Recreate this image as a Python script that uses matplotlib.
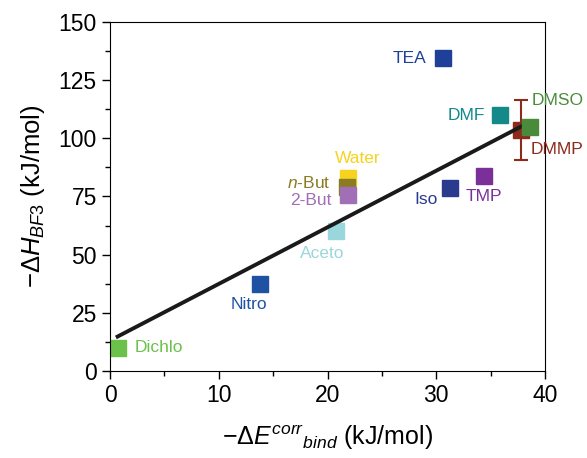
import numpy as np
import matplotlib
matplotlib.use('Agg')
import matplotlib.pyplot as plt
from matplotlib.ticker import MultipleLocator

plt.rcParams['font.family'] = ['Liberation Sans', 'DejaVu Sans']
plt.rcParams['mathtext.fontset'] = 'custom'
plt.rcParams['mathtext.rm'] = 'Liberation Sans'
plt.rcParams['mathtext.it'] = 'Liberation Sans:italic'

# solvent data
names = ['TEA', 'DMF', 'DMSO', 'DMMP', 'TMP', 'Iso', 'Water', 'n-But', '2-But', 'Aceto', 'Nitro', 'Dichlo']
e_bind = [30.6, 35.9, 38.6, 37.8, 34.4, 31.3, 21.9, 21.8, 21.9, 20.8, 13.8, 0.7]
h_bf3 = [134.5, 110.0, 104.8, 103.5, 84.0, 78.5, 83.0, 79.0, 75.5, 60.0, 37.5, 10.0]
h_err = [0, 0, 0, 13.0, 0, 0, 2.5, 0, 0, 0, 0, 0]
colors = ['#1f4099', '#13898a', '#4a8b3b', '#8c2a1c', '#7b2f98', '#2a3b8e',
          '#f7d320', '#8b7b22', '#a06fb6', '#9ad7dc', '#1f52a3', '#6cc14b']

# linear fit line endpoints (from figure)
fit_x = [0.7, 38.6]
fit_y = [14.8, 107.0]

# label offsets (points) and alignment
label_pos = {
    'TEA': (-12, 0, 'right'),
    'DMF': (-11, 0, 'right'),
    'DMSO': (1, 19, 'left'),
    'DMMP': (7, -14, 'left'),
    'TMP': (0, -15, 'center'),
    'Iso': (-9, -8, 'right'),
    'Water': (7, 14, 'center'),
    'n-But': (-12, 3, 'right'),
    '2-But': (-12, -4, 'right'),
    'Aceto': (-10, -16, 'center'),
    'Nitro': (-8, -15, 'center'),
    'Dichlo': (12, 0, 'left'),
}

fig = plt.figure(figsize=(5.87, 4.58), dpi=100)
ax = fig.add_axes([0.1874, 0.19, 0.7411, 0.762])

ax.plot(fit_x, fit_y, color='#1a1a1a', lw=2.8, zorder=3)

for n, x, y, e, c in zip(names, e_bind, h_bf3, h_err, colors):
    if e > 0:
        ax.errorbar(x, y, yerr=e, fmt='none', ecolor=c, elinewidth=1.5, capsize=5, capthick=1.5, zorder=2)
    ax.plot(x, y, 's', color=c, markersize=11, zorder=2 if n != 'DMSO' else 4)
    dx, dy, ha = label_pos[n]
    txt = n
    if n == 'n-But':
        txt = '$\\it{n}$-But'
    ax.annotate(txt, (x, y), xytext=(dx, dy), textcoords='offset points',
                ha=ha, va='center', color=c, fontsize=12.5, annotation_clip=False)

ax.set_xlim(0, 40)
ax.set_ylim(0, 150)
ax.xaxis.set_major_locator(MultipleLocator(10))
ax.xaxis.set_minor_locator(MultipleLocator(5))
ax.yaxis.set_major_locator(MultipleLocator(25))
ax.yaxis.set_minor_locator(MultipleLocator(12.5))
ax.tick_params(which='major', direction='out', length=6, width=1, labelsize=16.5)
ax.tick_params(which='minor', direction='out', length=3.5, width=1)
ax.tick_params(top=False, right=False)

ax.set_xlabel('$-\\mathit{\\Delta E}^{corr}{}_{bind}$ (kJ/mol)', fontsize=18, labelpad=12)
ax.set_ylabel('$-\\mathit{\\Delta H}_{BF3}$ (kJ/mol)', fontsize=18.5, labelpad=8)

fig.savefig('out.png', dpi=100)
